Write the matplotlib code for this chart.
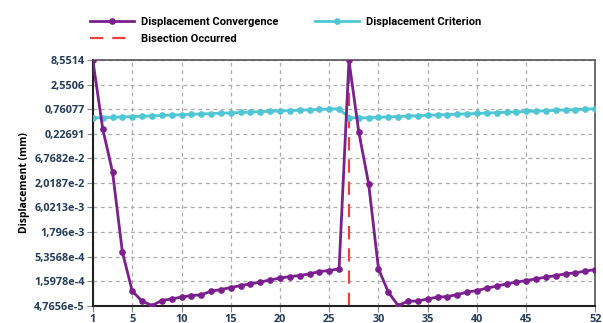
import numpy as np
import matplotlib.pyplot as plt
from matplotlib.ticker import FixedLocator, FixedFormatter, NullLocator

substeps = list(range(1, 53))

convergence = [8.5514, 0.293, 0.0346, 6.65e-4, 9.70e-5, 5.92e-5, 4.7656e-5, 6.10e-5,
               6.63e-5, 7.22e-5, 7.81e-5, 8.08e-5, 9.70e-5, 1.05e-4, 1.159e-4, 1.279e-4,
               1.391e-4, 1.513e-4, 1.695e-4, 1.843e-4, 1.995e-4, 2.096e-4, 2.28e-4,
               2.554e-4, 2.684e-4, 2.919e-4,
               8.5514, 0.249, 0.0194, 2.92e-4, 9.23e-5, 4.7656e-5, 5.92e-5, 5.95e-5,
               6.63e-5, 7.22e-5, 7.43e-5, 8.20e-5, 9.23e-5, 1.0e-4, 1.125e-4, 1.242e-4,
               1.391e-4, 1.513e-4, 1.638e-4, 1.781e-4, 1.937e-4, 2.096e-4, 2.28e-4,
               2.395e-4, 2.604e-4, 2.82e-4]

criterion = [0.497, 0.506, 0.516, 0.525, 0.535, 0.545, 0.555, 0.565, 0.576, 0.587,
             0.598, 0.609, 0.620, 0.632, 0.643, 0.655, 0.667, 0.680, 0.692, 0.705,
             0.718, 0.731, 0.745, 0.759, 0.773, 0.787,
             0.51, 0.497, 0.507, 0.516, 0.526, 0.536, 0.547, 0.557, 0.568, 0.579,
             0.590, 0.601, 0.613, 0.625, 0.637, 0.649, 0.661, 0.674, 0.687, 0.700,
             0.714, 0.727, 0.741, 0.756, 0.770, 0.785]

bisection_at = [27]

x_ticks = [1, 5, 10, 15, 20, 25, 30, 35, 40, 45, 52]
y_ticks = [8.5514, 2.5506, 0.76077, 0.22691, 6.7682e-2, 2.0187e-2, 6.0213e-3,
           1.796e-3, 5.3568e-4, 1.5978e-4, 4.7656e-5]
y_labels = ['8,5514', '2,5506', '0,76077', '0,22691', '6,7682e-2', '2,0187e-2',
            '6,0213e-3', '1,796e-3', '5,3568e-4', '1,5978e-4', '4,7656e-5']

purple = '#7b1f8f'
cyan = '#4fc6d4'
red = '#e8413f'
text_col = '#243b5a'

plt.rcParams['font.family'] = ['Open Sans', 'DejaVu Sans']

fig = plt.figure(figsize=(6.03, 3.23), dpi=100)
ax = fig.add_axes([0.154, 0.054, 0.833, 0.759])

conv_line, = ax.plot(substeps, convergence, color=purple, lw=2, marker='o', ms=3.8,
                     label='Displacement Convergence', zorder=4)
crit_line, = ax.plot(substeps, criterion, color=cyan, lw=2, marker='o', ms=3.8,
                     label='Displacement Criterion', zorder=3)
for b in bisection_at:
    bis_line = ax.axvline(b, color=red, lw=1.6, dashes=(6, 4),
                          label='Bisection Occurred', zorder=2)

ax.set_yscale('log')
ax.set_xlim(1, 52)
ax.set_ylim(4.7656e-5, 8.5514)
ax.yaxis.set_major_locator(FixedLocator(y_ticks))
ax.yaxis.set_major_formatter(FixedFormatter(y_labels))
ax.yaxis.set_minor_locator(NullLocator())
ax.set_xticks(x_ticks)

ax.grid(True, color='#aaaaaa', linestyle=(0, (3, 3)), lw=0.9)
ax.tick_params(axis='both', length=4, color='#888888', labelsize=7.8,
               labelcolor=text_col, pad=2)
for lbl in ax.get_xticklabels() + ax.get_yticklabels():
    lbl.set_fontweight('bold')

for side in ['top', 'right']:
    ax.spines[side].set_color('#555555')
    ax.spines[side].set_linewidth(1.2)
for side in ['left', 'bottom']:
    ax.spines[side].set_color('#222222')
    ax.spines[side].set_linewidth(1.5)

ax.set_ylabel('Displacement (mm)', fontsize=7.5, fontweight='bold', color='black',
              labelpad=3)

# column-wise fill: conv + bisection in the first column, criterion in the second
fig.legend([conv_line, bis_line, crit_line],
           ['Displacement Convergence', 'Bisection Occurred', 'Displacement Criterion'],
           loc='upper left', bbox_to_anchor=(0.132, 0.978), ncol=2, frameon=False,
           prop={'family': 'Roboto', 'weight': 'bold', 'size': 8}, handlelength=4,
           columnspacing=3.3, handletextpad=0.6, labelspacing=0.6, numpoints=1)

fig.savefig('out.png', dpi=100)
